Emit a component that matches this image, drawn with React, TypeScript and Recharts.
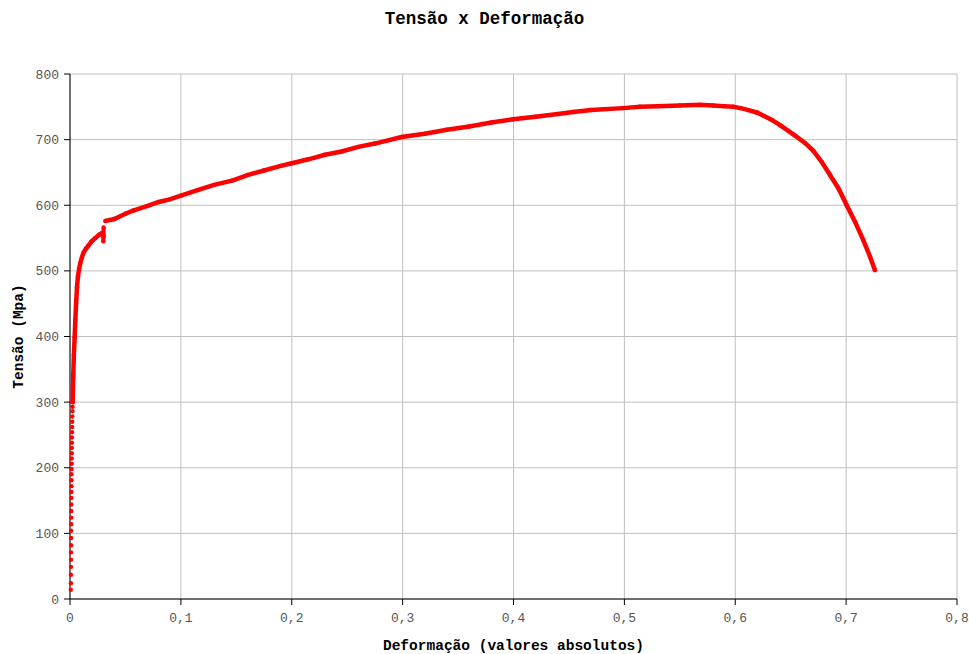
import {
  CartesianGrid,
  Scatter,
  ScatterChart,
  XAxis,
  YAxis,
} from 'recharts';

// elastic part: separate dots
const elasticStrain = [
  0.0007, 0.0008, 0.0008, 0.0009, 0.0009, 0.0009, 0.001, 0.001, 0.001, 0.0011,
  0.0011, 0.0011, 0.0012, 0.0012, 0.0012, 0.0013, 0.0013, 0.0014, 0.0014, 0.0015,
  0.0015, 0.0016, 0.0016, 0.0017, 0.0017, 0.0018, 0.0019, 0.002, 0.0021, 0.0022,
  0.0023, 0.0024,
];
const elasticStress = [
  14, 24, 37, 49, 60, 71, 82, 93, 104, 114,
  124, 134, 144, 154, 163, 172, 181, 190, 198, 206,
  214, 222, 230, 238, 246, 254, 262, 270, 278, 286,
  293, 300,
];

// knee up to the yield drop
const kneeStrain = [
  0.0024, 0.0029, 0.0035, 0.0042, 0.0048, 0.0055, 0.0063, 0.0072, 0.0082, 0.0093,
  0.0108, 0.0123, 0.0145, 0.0168, 0.0195, 0.0228, 0.0262, 0.0293,
];
const kneeStress = [
  300, 340, 372, 399, 425, 450, 475, 492, 503, 512,
  521, 528, 534, 539, 545, 550, 555, 558,
];

// yield drop
const dropStrain = [0.0298, 0.0301, 0.0303, 0.0304];
const dropStress = [557, 545, 566, 552];

// hardening and necking
const plasticStrain = [
  0.0318, 0.04, 0.05, 0.057, 0.07, 0.08, 0.09, 0.1007, 0.115, 0.13,
  0.147, 0.16, 0.175, 0.19, 0.2, 0.215, 0.23, 0.245, 0.26, 0.275,
  0.299, 0.32, 0.34, 0.36, 0.38, 0.3995, 0.42, 0.44, 0.4537, 0.47,
  0.4988, 0.514, 0.53, 0.55, 0.568, 0.58, 0.59, 0.598, 0.605, 0.612,
  0.62, 0.626, 0.633, 0.6404, 0.6524, 0.6629, 0.6704, 0.678, 0.6855, 0.693,
  0.7005, 0.708, 0.7155, 0.7215, 0.726,
];
const plasticStress = [
  576, 579, 587, 592, 599, 605, 609, 615, 623, 631,
  638, 646, 653, 660, 664, 670, 677, 682, 689, 694,
  704, 709, 715, 720, 726, 731, 735, 739, 742, 745,
  748, 750, 751, 752, 753, 752, 751, 750, 748, 745,
  741, 736, 730, 722, 708, 695, 683, 666, 646, 626,
  600, 575, 547, 522, 501,
];

const xTicks = [0, 0.1, 0.2, 0.3, 0.4, 0.5, 0.6, 0.7, 0.8];
const yTicks = [0, 100, 200, 300, 400, 500, 600, 700, 800];

const toPoints = (xs: number[], ys: number[]) => xs.map((x, i) => ({ x, y: ys[i] }));

const RED = '#ff0000';
const FONT = '"Liberation Mono", "DejaVu Sans Mono", monospace';

const Dot = (props: any) => <circle cx={props.cx} cy={props.cy} r={2.2} fill={RED} />;

const YLabel = (props: any) => {
  const vb = props.viewBox;
  const cx = 19;
  const cy = vb.y + vb.height / 2;
  return (
    <text
      x={cx}
      y={cy}
      transform={`rotate(-90, ${cx}, ${cy})`}
      textAnchor="middle"
      dominantBaseline="central"
      fontFamily={FONT}
      fontWeight="bold"
      fontSize={14.5}
      fill="#000"
    >
      Tensão (Mpa)
    </text>
  );
};

export default function App() {
  return (
    <div style={{ position: 'absolute', left: 0, top: 0, width: 969, height: 654, background: '#fff' }}>
      <div
        style={{
          position: 'absolute',
          left: 0,
          top: 9,
          width: 969,
          textAlign: 'center',
          fontFamily: FONT,
          fontWeight: 'bold',
          fontSize: 17.5,
          color: '#000',
        }}
      >
        Tensão x Deformação
      </div>
      <ScatterChart width={969} height={654} margin={{ top: 74, right: 12, bottom: 0, left: 0 }}>
        <CartesianGrid stroke="#c0c0c0" strokeWidth={1} />
        <XAxis
          type="number"
          dataKey="x"
          domain={[0, 0.8]}
          ticks={xTicks}
          interval={0}
          height={55}
          tickSize={6}
          tickMargin={8}
          axisLine={{ stroke: '#000' }}
          tickLine={{ stroke: '#000' }}
          tick={{ fill: '#555', fontSize: 13, fontFamily: FONT }}
          tickFormatter={(v: number) => (v === 0 ? '0' : v.toFixed(1).replace('.', ','))}
          label={{
            value: 'Deformação (valores absolutos)',
            position: 'insideBottom',
            offset: 4,
            style: { fontFamily: FONT, fontWeight: 'bold', fontSize: 14.5, fill: '#000' },
          }}
        />
        <YAxis
          type="number"
          dataKey="y"
          domain={[0, 800]}
          ticks={yTicks}
          interval={0}
          width={70}
          tickSize={6}
          tickMargin={5}
          axisLine={{ stroke: '#000' }}
          tickLine={{ stroke: '#000' }}
          tick={{ fill: '#555', fontSize: 13, fontFamily: FONT }}
          label={<YLabel />}
        />
        <Scatter
          data={toPoints(elasticStrain, elasticStress)}
          shape={Dot}
          isAnimationActive={false}
        />
        <Scatter
          data={toPoints(kneeStrain, kneeStress)}
          shape={Dot}
          line={{ stroke: RED, strokeWidth: 4.5 }}
          isAnimationActive={false}
        />
        <Scatter
          data={toPoints(dropStrain, dropStress)}
          shape={Dot}
          line={{ stroke: RED, strokeWidth: 4 }}
          isAnimationActive={false}
        />
        <Scatter
          data={toPoints(plasticStrain, plasticStress)}
          shape={Dot}
          line={{ stroke: RED, strokeWidth: 4.5 }}
          isAnimationActive={false}
        />
      </ScatterChart>
    </div>
  );
}
